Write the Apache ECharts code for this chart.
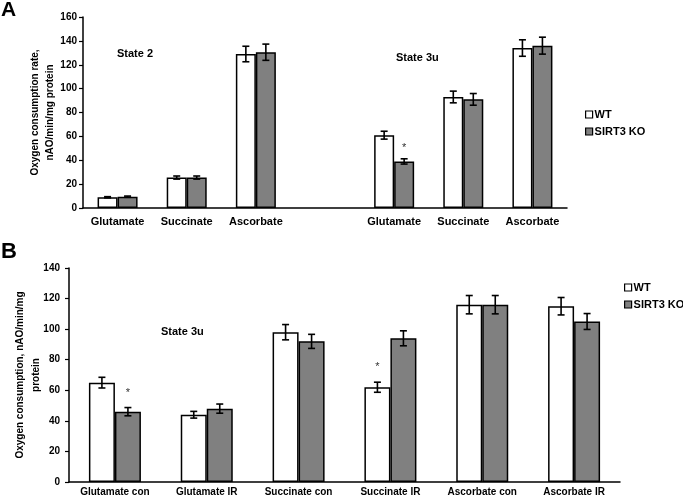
<!DOCTYPE html>
<html>
<head>
<meta charset="utf-8">
<script src="https://cdn.jsdelivr.net/npm/echarts@6/dist/echarts.min.js"></script>
<style>html,body{margin:0;padding:0;background:#fff}#c{width:683px;height:498px}</style>
</head>
<body>
<div id="c"></div>
<script>
// ---- Panel A data ----
const catsA = ['Glutamate', 'Succinate', 'Ascorbate', '', 'Glutamate', 'Succinate', 'Ascorbate'];
const wtA = [9.0, 25.5, 129, null, 61, 93, 134];
const koA = [9.5, 25.5, 130.5, null, 39, 91, 136];
const wtErrA = [0.5, 1.3, 6.5, null, 3.3, 4.9, 6.9];
const koErrA = [0.5, 1.3, 6.8, null, 2.2, 4.9, 7.1];
const wtStarA = [0, 0, 0, 0, 0, 0, 0];
const koStarA = [0, 0, 0, 0, 1, 0, 0];
const ticksA = [0, 20, 40, 60, 80, 100, 120, 140, 160];

// ---- Panel B data ----
const catsB = ['Glutamate con', 'Glutamate IR', 'Succinate con', 'Succinate IR', 'Ascorbate con', 'Ascorbate IR'];
const wtB = [65, 44, 98, 62, 116, 115];
const koB = [46, 48, 92, 94, 116, 105];
const wtErrB = [3.5, 2.2, 5, 3.3, 6, 5.7];
const koErrB = [2.7, 3, 4.6, 4.9, 6, 5.2];
const wtStarB = [0, 0, 0, 1, 0, 0];
const koStarB = [1, 0, 0, 0, 0, 0];
const ticksB = [0, 20, 40, 60, 80, 100, 120, 140];

const FONT = 'Liberation Sans, Arial, sans-serif';

function errData(vals, errs, stars) {
  const out = [];
  vals.forEach((v, i) => { if (v != null) out.push([i, v, errs[i], stars[i]]); });
  return out;
}
function errRender(offset, starGap) {
  return function (params, api) {
    const i = api.value(0), v = api.value(1), e = api.value(2), s = api.value(3);
    const x = api.coord([i, v])[0] + offset;
    const yt = api.coord([i, v + e])[1];
    const yb = api.coord([i, v - e])[1];
    const st = { stroke: '#000', lineWidth: 1.6 };
    const ch = [
      { type: 'line', shape: { x1: x, y1: yt, x2: x, y2: yb }, style: st },
      { type: 'line', shape: { x1: x - 3.5, y1: yt, x2: x + 3.5, y2: yt }, style: st },
      { type: 'line', shape: { x1: x - 3.5, y1: yb, x2: x + 3.5, y2: yb }, style: st }
    ];
    if (s) ch.push({ type: 'text', style: { text: '*', x: x, y: yt - starGap, align: 'center', verticalAlign: 'middle', fontSize: 11, fontFamily: FONT, fill: '#333' } });
    return { type: 'group', children: ch };
  };
}

const bwA = 20, bwB = 26;
const axisLbl = { color: '#000', fontWeight: 'bold', fontFamily: FONT };

const option = {
  animation: false,
  backgroundColor: '#fff',
  textStyle: { fontFamily: FONT },
  grid: [
    { left: 83, top: 17, width: 484, height: 191, outerBoundsMode: 'none', containLabel: false },
    { left: 69, top: 268, width: 551, height: 214, outerBoundsMode: 'none', containLabel: false }
  ],
  xAxis: [
    { gridIndex: 0, type: 'category', data: catsA,
      axisLine: { lineStyle: { color: '#000', width: 1.5 } }, axisTick: { show: false },
      axisLabel: Object.assign({ fontSize: 11, interval: 0, margin: 8 }, axisLbl) },
    { gridIndex: 1, type: 'category', data: catsB,
      axisLine: { lineStyle: { color: '#000', width: 1.5 } }, axisTick: { show: false },
      axisLabel: Object.assign({ fontSize: 10, interval: 0, margin: 5 }, axisLbl) }
  ],
  yAxis: [
    { gridIndex: 0, type: 'value', min: ticksA[0], max: ticksA[ticksA.length - 1], interval: ticksA[1] - ticksA[0],
      splitLine: { show: false },
      axisLine: { show: true, lineStyle: { color: '#000', width: 1.5 } },
      axisTick: { show: true, length: 4, lineStyle: { color: '#000', width: 1.2 } },
      axisLabel: Object.assign({ fontSize: 10, margin: 6 }, axisLbl),
      name: 'Oxygen consumption rate,\nnAO/min/mg protein', nameLocation: 'middle', nameRotate: 90, nameGap: 25,
      nameMoveOverlap: false,
      nameTextStyle: { fontSize: 10, fontWeight: 'bold', color: '#000', lineHeight: 15, fontFamily: FONT } },
    { gridIndex: 1, type: 'value', min: ticksB[0], max: ticksB[ticksB.length - 1], interval: ticksB[1] - ticksB[0],
      splitLine: { show: false },
      axisLine: { show: true, lineStyle: { color: '#000', width: 1.5 } },
      axisTick: { show: true, length: 4, lineStyle: { color: '#000', width: 1.2 } },
      axisLabel: Object.assign({ fontSize: 10, margin: 9 }, axisLbl),
      name: 'Oxygen consumption, nAO/min/mg\nprotein', nameLocation: 'middle', nameRotate: 90, nameGap: 25,
      nameMoveOverlap: false,
      nameTextStyle: { fontSize: 10, fontWeight: 'bold', color: '#000', lineHeight: 16, fontFamily: FONT } }
  ],
  legend: [
    { orient: 'vertical', left: 580, top: 104, itemWidth: 7, itemHeight: 7, itemGap: 6, icon: 'rect',
      data: ['WT', 'SIRT3 KO'], selectedMode: false,
      itemStyle: { borderColor: '#000', borderWidth: 1.2 },
      textStyle: { fontSize: 11, fontWeight: 'bold', color: '#000', fontFamily: FONT, padding: [0, 0, 0, -3] } },
    { orient: 'vertical', left: 619, top: 277, itemWidth: 7, itemHeight: 7, itemGap: 6, icon: 'rect',
      data: ['WT', 'SIRT3 KO'], selectedMode: false,
      itemStyle: { borderColor: '#000', borderWidth: 1.2 },
      textStyle: { fontSize: 11, fontWeight: 'bold', color: '#000', fontFamily: FONT, padding: [0, 0, 0, -3] } }
  ],
  graphic: [
    { type: 'text', left: 1, top: 0, style: { text: 'A', fontSize: 21, fontWeight: 'bold', fill: '#000', fontFamily: FONT } },
    { type: 'text', left: 1, top: 241, style: { text: 'B', fontSize: 22, fontWeight: 'bold', fill: '#000', fontFamily: FONT } },
    { type: 'text', left: 117, top: 48, style: { text: 'State 2', fontSize: 11, fontWeight: 'bold', fill: '#000', fontFamily: FONT } },
    { type: 'text', left: 396, top: 52, style: { text: 'State 3u', fontSize: 11, fontWeight: 'bold', fill: '#000', fontFamily: FONT } },
    { type: 'text', left: 161, top: 326, style: { text: 'State 3u', fontSize: 11, fontWeight: 'bold', fill: '#000', fontFamily: FONT } }
  ],
  series: [
    { name: 'WT', type: 'bar', xAxisIndex: 0, yAxisIndex: 0, data: wtA, barWidth: bwA, barGap: '0%',
      itemStyle: { color: '#fff', borderColor: '#000', borderWidth: 1.5 } },
    { name: 'SIRT3 KO', type: 'bar', xAxisIndex: 0, yAxisIndex: 0, data: koA, barWidth: bwA, barGap: '0%',
      itemStyle: { color: '#808080', borderColor: '#000', borderWidth: 1.5 } },
    { name: 'WT', type: 'bar', xAxisIndex: 1, yAxisIndex: 1, data: wtB, barWidth: bwB, barGap: '0%',
      itemStyle: { color: '#fff', borderColor: '#000', borderWidth: 1.5 } },
    { name: 'SIRT3 KO', type: 'bar', xAxisIndex: 1, yAxisIndex: 1, data: koB, barWidth: bwB, barGap: '0%',
      itemStyle: { color: '#808080', borderColor: '#000', borderWidth: 1.5 } },
    { type: 'custom', xAxisIndex: 0, yAxisIndex: 0, renderItem: errRender(-bwA / 2, 11), data: errData(wtA, wtErrA, wtStarA), z: 5 },
    { type: 'custom', xAxisIndex: 0, yAxisIndex: 0, renderItem: errRender(bwA / 2, 11), data: errData(koA, koErrA, koStarA), z: 5 },
    { type: 'custom', xAxisIndex: 1, yAxisIndex: 1, renderItem: errRender(-bwB / 2, 15), data: errData(wtB, wtErrB, wtStarB), z: 5 },
    { type: 'custom', xAxisIndex: 1, yAxisIndex: 1, renderItem: errRender(bwB / 2, 15), data: errData(koB, koErrB, koStarB), z: 5 }
  ]
};
const chart = echarts.init(document.getElementById('c'), null, { renderer: 'canvas' });
chart.setOption(option);
</script>
</body>
</html>
